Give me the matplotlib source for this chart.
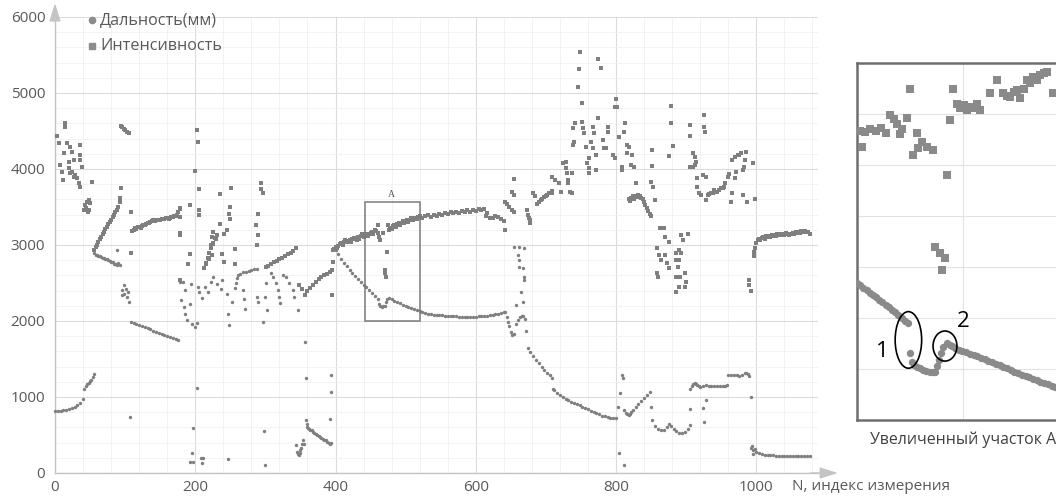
import matplotlib
matplotlib.use("Agg")
import matplotlib.pyplot as plt
from matplotlib.patches import Rectangle, Ellipse
from matplotlib.lines import Line2D
from matplotlib.ticker import MultipleLocator

# ================= MAIN CHART DATA (N, value) =================
# ---- Дальность (мм) ----
rng_start = [(0, 815), (4, 818), (8, 822), (12, 828), (16, 835), (20, 842), (24, 852), (28, 868),
             (32, 890), (36, 925), (40, 975), (42, 1110), (44, 1140), (46, 1165), (48, 1185),
             (50, 1205), (52, 1230), (54, 1260), (56, 1300)]
rng_fall_1 = [(56, 2900), (58, 2870), (60, 2865), (62, 2860), (64, 2850), (66, 2845), (68, 2835),
              (70, 2825), (72, 2815), (74, 2810), (76, 2800), (78, 2790), (80, 2780), (82, 2770),
              (84, 2755), (86, 2745), (88, 2740), (90, 2760), (92, 2740), (88, 2934), (95, 2404),
              (96, 2338), (98, 2470), (98, 2360), (101, 2426), (102, 2316), (104, 2380), (106, 2250),
              (107, 741)]
rng_fall_2 = [(108, 1990), (112, 1975), (116, 1962), (120, 1950), (124, 1936), (128, 1922), (132, 1906),
              (136, 1890), (140, 1875), (144, 1860), (148, 1845), (152, 1830), (156, 1815), (160, 1800),
              (164, 1786), (168, 1772), (172, 1760), (176, 1750)]
rng_chaos = [(178, 2514), (179, 2273), (182, 2514), (184, 2185), (185, 2404), (186, 2097), (188, 2010),
             (192, 2229), (194, 2492), (196, 1960), (200, 1925), (203, 1969), (204, 2448), (206, 2382),
             (210, 2300), (214, 2448), (218, 2380), (222, 2514), (226, 2580), (231, 2492), (236, 2420),
             (238, 2536), (245, 2360), (246, 2097), (248, 1947), (252, 2250), (268, 2408), (269, 2295),
             (271, 2163), (288, 2316), (290, 2250), (296, 1991),
             (192, 150), (195, 267), (197, 150), (197, 588), (202, 1120), (208, 202), (209, 127),
             (211, 193), (246, 190), (298, 550), (299, 105),
             (257, 2440), (258, 2500), (259, 2560), (261, 2600), (264, 2620), (268, 2640), (272, 2650),
             (276, 2660), (280, 2670), (284, 2680), (288, 2690),
             (299, 2320), (301, 2496), (302, 2145), (308, 2627), (311, 2583), (315, 2496), (318, 2408),
             (320, 2320), (321, 2233), (325, 2605), (330, 2583), (334, 2496), (339, 2408), (341, 2320),
             (346, 2145)]
rng_low = [(343, 370), (345, 280), (347, 250), (348, 240), (349, 260), (350, 300), (351, 330), (352, 380),
           (353, 430), (355, 380), (358, 697), (359, 640), (360, 610), (361, 590), (362, 580), (364, 570),
           (366, 560), (368, 540), (370, 525), (372, 515), (374, 500), (376, 485), (378, 470), (380, 455),
           (382, 445), (384, 430), (386, 440), (388, 410), (390, 395), (392, 385), (394, 400),
           (392.5, 706), (393.4, 1070), (393, 1289), (356, 1728), (358, 1246)]
rng_arc = [(400, 2934), (404, 2875), (408, 2815), (412, 2762), (416, 2718), (420, 2675), (424, 2630),
           (428, 2592), (432, 2555), (436, 2518), (440, 2480), (444, 2445), (448, 2410), (452, 2370),
           (456, 2325), (460, 2285), (462, 2225), (464, 2195), (466, 2190), (468, 2192), (470, 2200),
           (472, 2250), (474, 2295), (476, 2300), (480, 2285), (484, 2268), (488, 2250), (492, 2233),
           (496, 2217), (500, 2201), (504, 2187), (508, 2173), (512, 2160), (516, 2146), (520, 2130),
           (524, 2118), (528, 2108), (532, 2098), (536, 2090), (540, 2085), (544, 2082), (548, 2079),
           (552, 2076), (556, 2072), (560, 2068), (564, 2065), (568, 2062), (572, 2060), (576, 2058),
           (580, 2057), (584, 2056), (588, 2056), (592, 2056), (596, 2057), (600, 2058), (604, 2060),
           (608, 2063), (612, 2067), (616, 2071), (620, 2076), (624, 2082), (628, 2090), (632, 2098),
           (636, 2107), (640, 2118)]
rng_gap = [(642, 2123), (644, 2057), (646, 1990), (648, 1930), (650, 1860), (652, 1816), (654, 1830),
           (657, 1960), (660, 2010), (663, 2048), (666, 2065), (668, 2070), (670, 2026), (672, 1873),
           (655, 2978), (662, 2978), (669, 2960), (660, 2868), (661, 2803), (662, 2715), (667, 2693),
           (669, 2583), (669, 2539), (664, 2386), (667, 2254), (658, 2211)]
rng_fall_3 = [(674, 1640), (678, 1590), (682, 1540), (686, 1490), (690, 1445), (694, 1400), (698, 1360),
              (702, 1320), (706, 1285), (708, 1250), (710, 1100), (712, 1090), (716, 1048), (720, 1030),
              (724, 1005), (728, 975), (732, 955), (736, 940), (740, 920), (744, 905), (748, 890),
              (752, 875), (756, 860), (760, 840), (764, 820), (768, 800), (772, 785), (776, 770),
              (780, 755), (784, 745), (788, 735), (792, 725), (796, 720), (800, 718)]
rng_waves = [(803, 873), (805, 1048), (808, 1289), (810, 1250), (804, 268), (812, 105), (850, 873),
             (812, 830), (814, 790), (816, 770), (818, 765), (820, 775), (822, 800),
             (824, 830), (828, 870), (832, 905), (836, 945), (840, 985), (844, 1020), (848, 1060),
             (852, 697), (856, 620), (860, 585), (864, 568), (868, 570), (872, 600), (876, 650),
             (878, 620), (882, 580), (886, 555), (890, 530), (894, 522), (898, 545), (902, 585), (905, 632)]
rng_steps = [(906, 838), (906, 1100), (908, 1150), (910, 1175), (912, 1182), (914, 1172), (916, 1158),
             (918, 1140), (920, 1130), (924, 1148), (928, 1152), (932, 1150), (936, 1148), (940, 1150),
             (944, 1150), (948, 1146), (952, 1148), (956, 1150), (958, 1155), (960, 1285), (964, 1290),
             (968, 1292), (972, 1288), (976, 1280), (980, 1290), (984, 1320), (986, 1315), (988, 1300),
             (990, 1280), (924, 851), (928, 960), (926, 676), (993, 1000)]
rng_tail = [(992, 330), (994, 350), (995, 300), (996, 245), (998, 310), (1000, 280), (1004, 262),
            (1008, 248), (1012, 240), (1016, 236), (1020, 233), (1024, 231), (1028, 230), (1032, 229),
            (1036, 229), (1040, 228), (1044, 228), (1048, 228), (1052, 229), (1056, 228), (1060, 227),
            (1064, 228), (1068, 228), (1072, 228), (1076, 229)]

# ---- Интенсивность ----
int_start = [(3, 4434), (5, 4346), (7.6, 4053), (10, 3965), (11.4, 3855), (12.3, 4206), (14.7, 4601),
             (14.7, 4548), (17, 4346), (19.4, 4097), (19.4, 4009), (21.8, 4294), (21.8, 3943), (24, 4228),
             (24, 3965), (26.5, 4119), (26.5, 3899), (29, 3921), (31, 3877), (33.6, 3811), (36, 4316),
             (36, 4184), (36, 4119), (36, 3767), (38.4, 4030), (52.6, 3833), (40.7, 3461), (43, 3526),
             (44, 3483), (45.5, 3570), (46.6, 3439), (47.8, 3592), (49, 3461), (50, 3548)]
int_rise_1 = [(56, 2940), (58, 2970), (60, 3005), (62, 3040), (64, 3075), (66, 3105), (68, 3140),
              (70, 3170), (72, 3205), (74, 3235), (76, 3270), (78, 3300), (80, 3335), (82, 3365),
              (84, 3400), (86, 3430), (88, 3460), (90, 3495), (92, 3560), (93, 3616), (94, 3748),
              (94, 4566), (96, 4550), (98, 4530), (100, 4513), (102, 4490), (105, 4469),
              (108, 2895), (109, 3430)]
int_rise_2 = [(110, 3180), (112, 3200), (114, 3220), (116, 3215), (118, 3235), (120, 3240), (122, 3230),
              (124, 3250), (126, 3265), (128, 3260), (130, 3280), (132, 3290), (134, 3285), (136, 3300),
              (138, 3315), (140, 3325), (142, 3320), (144, 3330), (146, 3325), (148, 3335), (150, 3330),
              (152, 3340), (154, 3345), (156, 3340), (158, 3350), (160, 3355), (162, 3345), (164, 3360),
              (166, 3370), (168, 3365), (170, 3375), (172, 3380), (174, 3400), (176, 3440), (178, 3480),
              (178, 3153), (178, 2539)]
int_chaos = [(178, 3483), (178, 3373), (178, 3132), (190, 2756), (192, 2887), (192, 3526), (200, 3978),
             (203, 4513), (204, 4360), (206, 3733), (206, 3460), (206, 3395), (212, 2700), (215, 2760),
             (215, 2756), (218, 2830), (219, 2821), (220, 2900), (222, 2960), (222, 2996), (224, 2865),
             (224, 3105), (225, 3030), (226, 3018), (226, 3171), (228, 3090), (229, 3083), (231, 3130),
             (231, 3127), (235, 3281), (235, 3671), (238, 2887), (241, 2778), (241, 3149), (245, 3193),
             (248, 3412), (249, 3347), (249, 3500), (251, 3746), (257, 2952), (257, 2756), (287, 3263),
             (288, 2996), (289, 3127), (289, 3412), (294, 3811), (294, 3740), (296, 3680)]
int_saw = [(301, 2715), (304, 2730), (308, 2750), (312, 2770), (316, 2790), (320, 2810), (324, 2830),
           (328, 2855), (332, 2875), (336, 2900), (340, 2925), (344, 2955),
           (348, 2470), (352, 2420), (356, 2345), (360, 2400), (364, 2440), (368, 2480), (372, 2515),
           (376, 2550), (380, 2580), (384, 2605), (388, 2625), (392, 2650), (395, 2675), (396, 2777),
           (395, 2338)]
int_band_1 = [(396, 2934), (398, 2950), (400, 2975), (402, 2960), (404, 2990), (406, 3010), (408, 3020),
              (410, 3000), (412, 3040), (414, 3060), (416, 3035), (418, 3050), (420, 3070), (422, 3040),
              (424, 3080), (426, 3095), (428, 3075), (430, 3070), (432, 3100), (434, 3085), (436, 3115),
              (438, 3140), (440, 3110), (442, 3125), (444, 3150), (446, 3120), (448, 3140), (450, 3160),
              (452, 3170), (454, 3150), (456, 3195), (458, 3180), (460, 3160), (462, 3109), (464, 3065),
              (467, 3153), (460, 3263), (475, 3263), (474, 2912), (470, 2675), (471, 2632), (472, 2575)]
int_band_2 = [(476, 3200), (478, 3230), (480, 3215), (482, 3245), (484, 3260), (486, 3235), (488, 3270),
              (490, 3290), (492, 3265), (494, 3285), (496, 3310), (498, 3290), (500, 3320), (502, 3335),
              (504, 3305), (506, 3330), (508, 3350), (510, 3325), (512, 3345), (514, 3360), (516, 3340),
              (518, 3365), (520, 3375), (524, 3350), (528, 3380), (532, 3395), (536, 3370), (540, 3400),
              (544, 3385), (548, 3410), (552, 3395), (556, 3420), (560, 3405), (564, 3430), (568, 3415),
              (572, 3440), (576, 3425), (580, 3445), (584, 3430), (588, 3455), (592, 3440), (596, 3465),
              (600, 3450), (604, 3475), (608, 3460), (612, 3480), (614, 3380), (616, 3420), (620, 3360),
              (624, 3350), (628, 3380), (632, 3365), (636, 3345), (640, 3310), (642, 3197)]
int_scatter_1 = [(642, 3570), (644, 3540), (648, 3500), (651, 3702), (652, 3460), (654, 3864), (654, 3658),
                 (655, 3440), (673, 3460), (675, 3395), (676, 3350), (677, 3330), (678, 3285), (682, 3680),
                 (684, 3640), (688, 3543), (690, 3570), (693, 3587), (695, 3610), (697, 3631), (700, 3640),
                 (702, 3653), (705, 3690), (709, 3717), (709, 3893)]
int_scatter_2 = [(708, 3680), (713, 3855), (718, 3811), (721, 3702), (725, 4075), (728, 4009), (728, 4097),
                 (730, 3943), (732, 3855), (732, 3811), (735, 3702), (737, 3680), (737, 3943),
                 (739, 4535), (739, 4316), (740, 4360), (742, 4601), (746, 5083), (747, 5311), (749, 5544),
                 (751, 4623), (751, 4873), (753, 4535), (755, 4469), (757, 4294), (759, 4075), (761, 4009),
                 (762, 4140), (762, 3943), (765, 4360), (767, 4557), (767, 4272), (769, 4469), (771, 4184),
                 (771, 3987), (774, 4667), (775, 5443), (778, 5333), (781, 4382), (783, 4272), (785, 4272),
                 (788, 4557), (788, 4491), (796, 4184), (798, 4140), (798, 4811), (800, 4917), (802, 4820),
                 (804, 4425), (808, 4031), (809, 3987), (811, 4491), (813, 4601), (815, 4206), (816, 4316),
                 (818, 4294), (821, 4053), (823, 4184), (826, 4031), (828, 3811),
                 (818, 3600), (820, 3580), (822, 3620), (824, 3640), (826, 3610), (828, 3650), (830, 3630),
                 (832, 3660), (834, 3640), (836, 3620), (838, 3600), (840, 3570), (842, 3530), (844, 3490),
                 (846, 3450), (848, 3410), (850, 3380),
                 (850, 3833), (852, 4250), (852, 4040), (853, 3767), (855, 3592), (876, 4171), (879, 4829),
                 (879, 4601), (881, 4303),
                 (858, 2956), (859, 2627), (860, 2583), (861, 2868), (863, 3219), (864, 2803), (868, 3219),
                 (870, 3110), (870, 2868), (873, 2759), (875, 3044), (875, 2693), (885, 2890), (885, 2583),
                 (886, 2803), (886, 2386), (888, 2715), (890, 2934), (890, 2803), (890, 2452), (891, 2583),
                 (892, 3127), (892, 2890), (895, 3066), (898, 2627), (898, 2452), (900, 2517), (902, 3149)]
int_scatter_3 = [(905, 4579), (906, 4434), (905, 4031), (910, 4206), (910, 4031), (912, 4162), (912, 4053),
                 (914, 4097), (916, 3877), (916, 3767), (919, 3680), (921, 3658), (924, 3921), (925, 4711),
                 (925, 4557), (927, 4491), (928, 3899), (928, 3592), (931, 3658), (933, 3670), (935, 3680),
                 (938, 3690), (940, 3724), (942, 3700), (944, 3702), (947, 3730), (949, 3746), (952, 3755),
                 (954, 3767), (956, 3811), (959, 3899), (961, 3930), (964, 3570), (966, 3680), (966, 4119),
                 (969, 3877), (969, 4162), (971, 3965), (974, 4184), (976, 4190), (978, 4206), (981, 3987),
                 (981, 3658), (983, 4031), (984, 4119), (985, 4228), (987, 3570), (989, 2539), (990, 2470),
                 (992, 2399), (996, 4075), (998, 3600)]
int_tail = [(997, 2912), (997, 2850), (998, 2960), (1000, 3030), (1002, 3060), (1004, 3075), (1006, 3060),
            (1008, 3090), (1010, 3100), (1012, 3085), (1014, 3115), (1016, 3100), (1018, 3120), (1020, 3110),
            (1022, 3130), (1024, 3115), (1026, 3135), (1028, 3120), (1030, 3140), (1032, 3125), (1034, 3140),
            (1036, 3130), (1038, 3150), (1040, 3135), (1042, 3155), (1044, 3140), (1046, 3125), (1048, 3150),
            (1050, 3140), (1052, 3160), (1054, 3145), (1056, 3170), (1058, 3155), (1060, 3175), (1062, 3160),
            (1064, 3180), (1066, 3165), (1068, 3185), (1070, 3190), (1072, 3175), (1074, 3170), (1076, 3150)]

# ================= INSET (region A, enlarged) =================
ins_circles = [(460.0, 2538), (460.6, 2529), (461.2, 2519), (461.8, 2510), (462.4, 2500), (463.0, 2491),
               (463.6, 2481), (464.2, 2471), (464.8, 2462), (465.4, 2452), (466.0, 2442), (466.6, 2432),
               (467.2, 2422), (467.8, 2411), (468.4, 2400), (469.0, 2390), (469.6, 2380),
               (470.0, 2261), (470.3, 2229), (470.8, 2215), (471.3, 2209), (471.9, 2202), (472.5, 2196),
               (473.1, 2192), (473.8, 2189), (474.3, 2188), (474.7, 2189), (475.1, 2210), (475.4, 2235),
               (475.8, 2262), (476.3, 2287), (476.9, 2301), (477.5, 2296), (478.0, 2289), (478.5, 2281),
               (479.2, 2276), (479.9, 2270), (480.6, 2265), (481.3, 2260), (482.0, 2255), (482.7, 2250),
               (483.4, 2244), (484.1, 2238), (484.8, 2232), (485.5, 2226), (486.2, 2220), (486.9, 2214),
               (487.6, 2208), (488.3, 2202), (489.0, 2196), (489.7, 2190), (490.4, 2184), (491.1, 2178),
               (491.8, 2172), (492.5, 2167), (493.2, 2161), (493.9, 2155), (494.6, 2150), (495.3, 2145),
               (496.0, 2140), (496.7, 2134), (497.4, 2129), (498.1, 2125), (498.8, 2121), (499.5, 2117),
               (500.2, 2113)]
ins_squares = [(460.5, 3135), (461.5, 3128), (462.5, 3140), (463.5, 3132), (464.5, 3145), (465.5, 3125),
               (460.9, 3071), (466.2, 3196), (467.0, 3180), (467.5, 3160), (468.4, 3143), (469.4, 3183),
               (468.1, 3120), (470.0, 3300), (471.3, 3124), (472.2, 3091), (473.2, 3071), (474.4, 3058),
               (470.6, 3039), (471.6, 3065), (476.9, 2960), (478.2, 3300), (477.5, 3176), (478.8, 3241),
               (479.5, 3225), (480.1, 3235), (480.7, 3215), (481.3, 3228), (482.0, 3222), (482.6, 3241),
               (483.2, 3215), (485.1, 3281), (486.4, 3333), (487.6, 3281), (488.3, 3270), (488.9, 3267),
               (489.6, 3285), (490.2, 3294), (490.8, 3261), (491.5, 3300), (492.0, 3333), (492.6, 3320),
               (493.3, 3346), (494.0, 3335), (494.5, 3352), (495.2, 3360), (495.8, 3365), (497.0, 3281),
               (474.7, 2679), (475.7, 2653), (476.6, 2634), (476.0, 2588)]

x_ticks = [0, 200, 400, 600, 800, 1000]
y_ticks = [0, 1000, 2000, 3000, 4000, 5000, 6000]


def unzip(*segments):
    xs, ys = [], []
    for seg in segments:
        for x, y in seg:
            xs.append(x)
            ys.append(y)
    return xs, ys


rng_n, rng_v = unzip(rng_start, rng_fall_1, rng_fall_2, rng_chaos, rng_low, rng_arc, rng_gap,
                     rng_fall_3, rng_waves, rng_steps, rng_tail)
int_n, int_v = unzip(int_start, int_rise_1, int_rise_2, int_chaos, int_saw, int_band_1, int_band_2,
                     int_scatter_1, int_scatter_2, int_scatter_3, int_tail)
ic_x, ic_y = unzip(ins_circles)
is_x, is_y = unzip(ins_squares)

W, H = 1056, 499
GRAY = '#7f7f7f'
TXT = '#595959'
plt.rcParams['font.family'] = ['Open Sans', 'DejaVu Sans']

fig = plt.figure(figsize=(W / 100, H / 100), dpi=100)
ax = fig.add_axes([55 / W, 26 / H, 763 / W, 456 / H])
ax.set_xlim(0, 1088)
ax.set_ylim(0, 6000)
ax.set_xticks(x_ticks)
ax.set_yticks(y_ticks)
ax.xaxis.set_minor_locator(MultipleLocator(40))
ax.yaxis.set_minor_locator(MultipleLocator(200))
ax.grid(which='major', color='#dcdcdc', lw=0.8)
ax.grid(which='minor', color='#f1f1f1', lw=0.6)
ax.set_axisbelow(True)
ax.tick_params(which='both', length=0, labelsize=11, colors=TXT)
ax.tick_params(axis='y', pad=7)
ax.tick_params(axis='x', pad=5)
for s in ('top', 'right'):
    ax.spines[s].set_visible(False)
for s in ('left', 'bottom'):
    ax.spines[s].set_color('#c4c4c4')
    ax.spines[s].set_linewidth(1.0)

ax.scatter(rng_n, rng_v, s=6, marker='o', c=GRAY, linewidths=0, zorder=3, clip_on=False)
ax.scatter(int_n, int_v, s=5, marker='s', c=GRAY, linewidths=0, zorder=3, clip_on=False)

# zoom box "A"
ax.add_patch(Rectangle((442, 2000), 78, 1570, fill=False, ec='#7a7a7a', lw=1.1, zorder=4))
ax.text(480, 3600, 'A', fontsize=7, family='Liberation Serif', color='#555555',
        ha='center', va='bottom')

# axis arrows
arrow = dict(arrowstyle='-|>,head_length=1.1,head_width=0.35', color='#c4c4c4', lw=1,
             shrinkA=0, shrinkB=0)
ax.annotate('', xy=(1.026, 0), xytext=(0.99, 0), xycoords='axes fraction', arrowprops=arrow,
            annotation_clip=False)
ax.annotate('', xy=(0, 1.03), xytext=(0, 0.99), xycoords='axes fraction', arrowprops=arrow,
            annotation_clip=False)

# legend
fig.add_artist(Line2D([92 / W], [1 - 20 / H], marker='o', ms=4.5, color='#8c8c8c', lw=0,
                      transform=fig.transFigure))
fig.add_artist(Line2D([92 / W], [1 - 46 / H], marker='s', ms=5.0, color='#8c8c8c', lw=0,
                      transform=fig.transFigure))
fig.text(100 / W, 1 - 20 / H, 'Дальность(мм)', fontsize=11.6, color=TXT, va='center', ha='left')
fig.text(100 / W, 1 - 46 / H, 'Интенсивность', fontsize=11.6, color=TXT, va='center', ha='left')

fig.text(792 / W, 1 - 487 / H, 'N, индекс измерения', fontsize=11, color=TXT, va='center', ha='left')

# ---------------- inset ----------------
axi = fig.add_axes([857 / W, 79 / H, 218 / W, 357 / H])
axi.set_xlim(460, 460 + 218 / 5.3)
axi.set_ylim(2000, 3400)
axi.set_yticks([2200, 2400, 2600, 2800, 3000, 3200])
axi.set_xticks([480, 500])
axi.grid(True, color='#e2e2e2', lw=0.8)
axi.set_axisbelow(True)
axi.tick_params(length=0, labelleft=False, labelbottom=False)
for s in axi.spines.values():
    s.set_color('#6e6e6e')
    s.set_linewidth(1.8)
axi.scatter(is_x, is_y, s=36, marker='s', c='#8a8a8a', linewidths=0, zorder=3)
axi.scatter(ic_x, ic_y, s=28, marker='o', c='#8a8a8a', linewidths=0, zorder=3)
axi.add_patch(Ellipse((469.7, 2314), 5.0, 222, fill=False, ec='black', lw=1.2, zorder=5))
axi.add_patch(Ellipse((476.6, 2290), 4.5, 118, fill=False, ec='black', lw=1.2, zorder=5))
axi.text(464.7, 2268, '1', fontsize=16, color='black', ha='center', va='center')
axi.text(480.1, 2385, '2', fontsize=16, color='black', ha='center', va='center')

fig.text(870 / W, 1 - 440 / H, 'Увеличенный участок А', fontsize=11.4, color='#404040',
         va='center', ha='left')

fig.savefig('out.png', dpi=100)
